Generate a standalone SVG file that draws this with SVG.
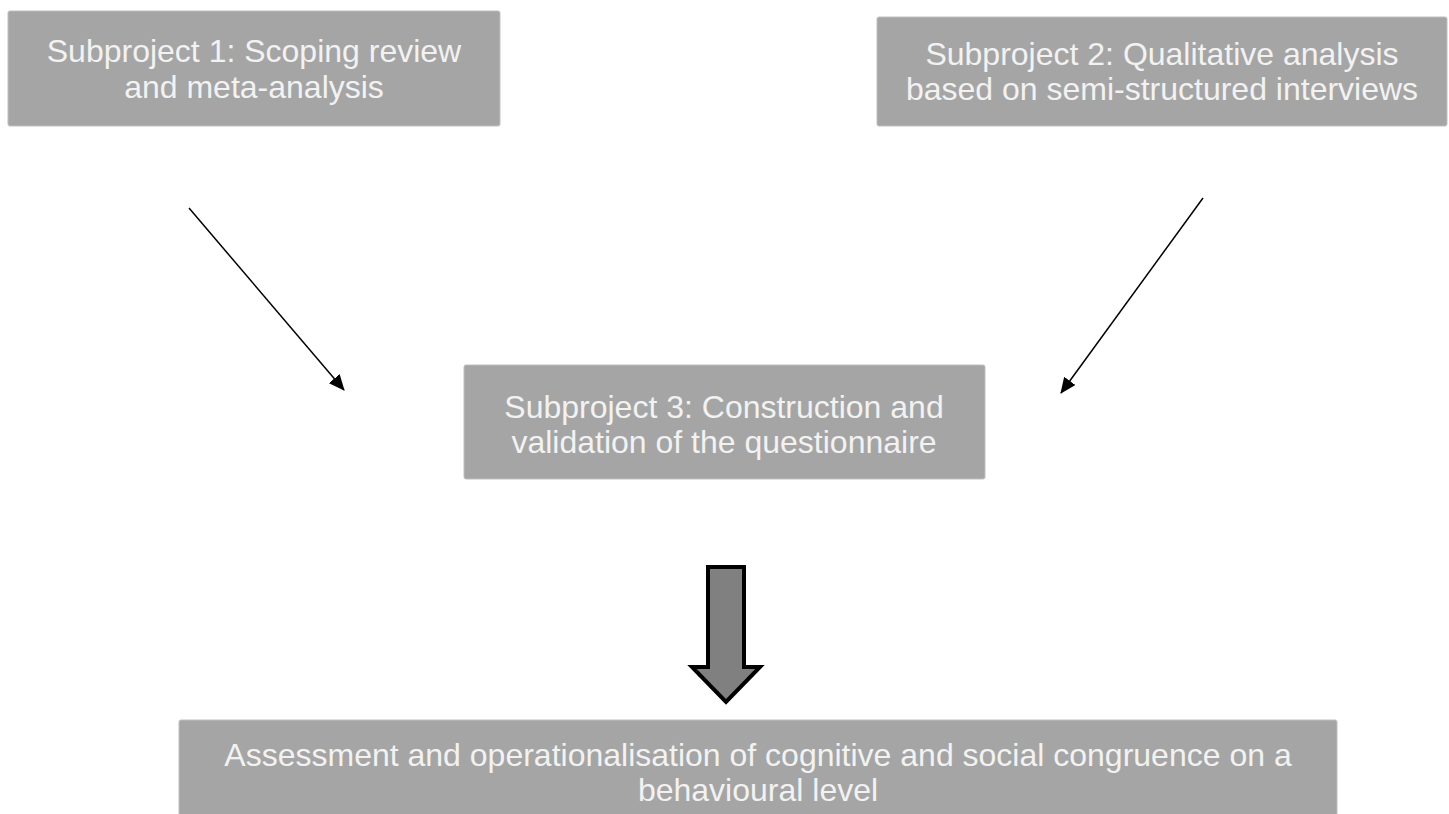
<svg xmlns="http://www.w3.org/2000/svg" width="1449" height="814" viewBox="0 0 1449 814">
<style>
.box{fill:#a5a5a5;stroke:#bfbfbf;stroke-width:1}
.t{font-family:"Liberation Sans",Arial,sans-serif;font-size:32px;fill:#f2f2f2;text-anchor:middle}
.c{stroke:#000;stroke-width:1.5;fill:none;marker-end:url(#ah)}
</style>
<defs>
<marker id="ah" markerWidth="16" markerHeight="14" refX="15" refY="7" orient="auto" markerUnits="userSpaceOnUse" viewBox="0 0 16 14">
<path d="M0,0 L16,7 L0,14 z" fill="#000"/>
</marker>
</defs>
<rect width="1449" height="814" fill="#fff"/>
<g id="n1"><rect class="box" x="8" y="11" width="492" height="115" rx="2"/>
<text class="t" x="254" y="62">Subproject 1: Scoping review</text>
<text class="t" x="254" y="98">and meta-analysis</text></g>
<g id="n2"><rect class="box" x="877" y="17" width="570" height="109" rx="2"/>
<text class="t" x="1162" y="65">Subproject 2: Qualitative analysis</text>
<text class="t" x="1162" y="100">based on semi-structured interviews</text></g>
<g id="n3"><rect class="box" x="464" y="365" width="521" height="114" rx="2"/>
<text class="t" x="724" y="418">Subproject 3: Construction and</text>
<text class="t" x="724" y="453">validation of the questionnaire</text></g>
<g id="n4"><rect class="box" x="179" y="720" width="1158" height="100" rx="2"/>
<text class="t" x="758" y="766">Assessment and operationalisation of cognitive and social congruence on a</text>
<text class="t" x="758" y="801">behavioural level</text></g>
<g id="connectors">
<line class="c" x1="189" y1="208" x2="344" y2="390"/>
<line class="c" x1="1203" y1="198" x2="1061" y2="393"/>
<path d="M708,567 L744,567 L744,667 L760,667 L726,702 L692,667 L708,667 Z" fill="#808080" stroke="#000" stroke-width="4" stroke-linejoin="miter"/>
</g>
</svg>
